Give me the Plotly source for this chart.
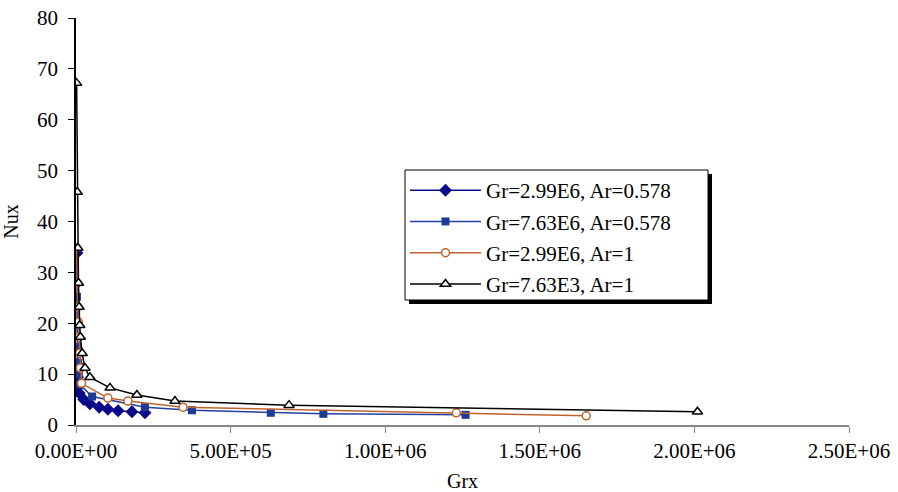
import plotly.graph_objects as go

# Series data
names = ["Gr=2.99E6, Ar=0.578", "Gr=7.63E6, Ar=0.578", "Gr=2.99E6, Ar=1", "Gr=7.63E3, Ar=1"]

grx_s1 = [3000, 4000, 5000, 7000, 10000, 25000, 45000, 75000, 103000, 136000, 181000, 223000]
nux_s1 = [33.8, 12.0, 9.4, 7.5, 6.3, 5.0, 4.2, 3.5, 3.1, 2.8, 2.6, 2.4]

grx_s2 = [3000, 5000, 7000, 9000, 12000, 52000, 223000, 375000, 630000, 800000, 1260000]
nux_s2 = [25.2, 15.3, 12.2, 10.0, 8.0, 5.6, 3.5, 2.9, 2.4, 2.2, 2.0]

grx_s3 = [2000, 4000, 6000, 8000, 10000, 12000, 14000, 18000, 103000, 168000, 346000, 1230000, 1650000]
nux_s3 = [34.8, 27.9, 23.2, 20.2, 17.3, 14.1, 11.2, 8.2, 5.3, 4.7, 3.5, 2.4, 1.8]

grx_s4 = [2000, 4000, 6000, 8000, 10000, 12000, 14000, 20000, 29000, 45000, 110000, 197000, 320000, 689000, 2010000]
nux_s4 = [67.2, 45.8, 34.8, 27.9, 23.2, 19.6, 17.3, 14.1, 11.2, 9.4, 7.3, 5.9, 4.7, 3.9, 2.6]

x_ticks = [0, 500000, 1000000, 1500000, 2000000, 2500000]
x_tick_labels = ["0.00E+00", "5.00E+05", "1.00E+06", "1.50E+06", "2.00E+06", "2.50E+06"]
y_ticks = [0, 10, 20, 30, 40, 50, 60, 70, 80]

FONT = "Liberation Serif, Times New Roman, serif"

fig = go.Figure()
fig.add_trace(go.Scatter(x=grx_s1, y=nux_s1, name=names[0], mode="lines+markers", legendgroup="a",
                         line=dict(color="#0a0a8a", width=1.5),
                         marker=dict(symbol="diamond", size=10, color="#0a0a8a")))
fig.add_trace(go.Scatter(x=grx_s2, y=nux_s2, name=names[1], mode="lines+markers", legendgroup="b",
                         line=dict(color="#2540a0", width=1.5),
                         marker=dict(symbol="square", size=8, color="#1d3a96")))
fig.add_trace(go.Scatter(x=grx_s3, y=nux_s3, name=names[2], mode="lines+markers", legendgroup="c",
                         line=dict(color="#c0622d", width=1.5),
                         marker=dict(symbol="circle", size=8, color="white",
                                     line=dict(color="#c0622d", width=1.5))))
fig.add_trace(go.Scatter(x=grx_s4, y=nux_s4, name=names[3], mode="lines+markers", legendgroup="d",
                         line=dict(color="black", width=1.5),
                         marker=dict(symbol="triangle-up", size=9, color="white",
                                     line=dict(color="black", width=1.5))))

# page pixel -> paper coords (plot area on the page: x 76..849, y 18..425)
def px_x(p):
    return (p - 76) / 773.0

def px_y(p):
    return (425 - p) / 407.0

# legend shadow and box
fig.add_shape(type="rect", xref="paper", yref="paper",
              x0=px_x(409), x1=px_x(712), y0=px_y(304), y1=px_y(174),
              fillcolor="black", line=dict(width=0), layer="above")
fig.add_shape(type="rect", xref="paper", yref="paper",
              x0=px_x(405), x1=px_x(708), y0=px_y(300), y1=px_y(170),
              fillcolor="white", line=dict(color="black", width=1), layer="above")

fig.update_layout(
    width=898, height=492,
    margin=dict(l=76, r=49, t=18, b=67, autoexpand=False),
    paper_bgcolor="white", plot_bgcolor="white",
    font=dict(family=FONT, size=21, color="black"),
    showlegend=True,
    legend=dict(x=px_x(405), y=px_y(170), xanchor="left", yanchor="top",
                bgcolor="rgba(0,0,0,0)", borderwidth=0,
                font=dict(family=FONT, size=21), itemwidth=71,
                tracegroupgap=1),
    xaxis=dict(range=[0, 2500000], tickvals=x_ticks, ticktext=x_tick_labels,
               showgrid=False, zeroline=False, showline=True, linecolor="#888888",
               linewidth=1.5, ticks="outside", ticklen=6, tickcolor="#888888",
               automargin=False, ticklabeloverflow="allow",
               title=dict(text="Grx", font=dict(family=FONT, size=20), standoff=13),
               tickfont=dict(family=FONT, size=21)),
    yaxis=dict(range=[0, 80], tickvals=y_ticks,
               showgrid=False, zeroline=False, showline=True, linecolor="black",
               linewidth=1.5, ticks="outside", ticklen=6, tickcolor="black",
               ticklabelstandoff=6, automargin=False, ticklabeloverflow="allow",
               title=dict(text="Nux", font=dict(family=FONT, size=20), standoff=17),
               tickfont=dict(family=FONT, size=21)),
)

fig.write_html("out.html",
               config={"displayModeBar": False},
               post_script="document.body.style.margin='0';document.body.style.overflow='hidden';")
